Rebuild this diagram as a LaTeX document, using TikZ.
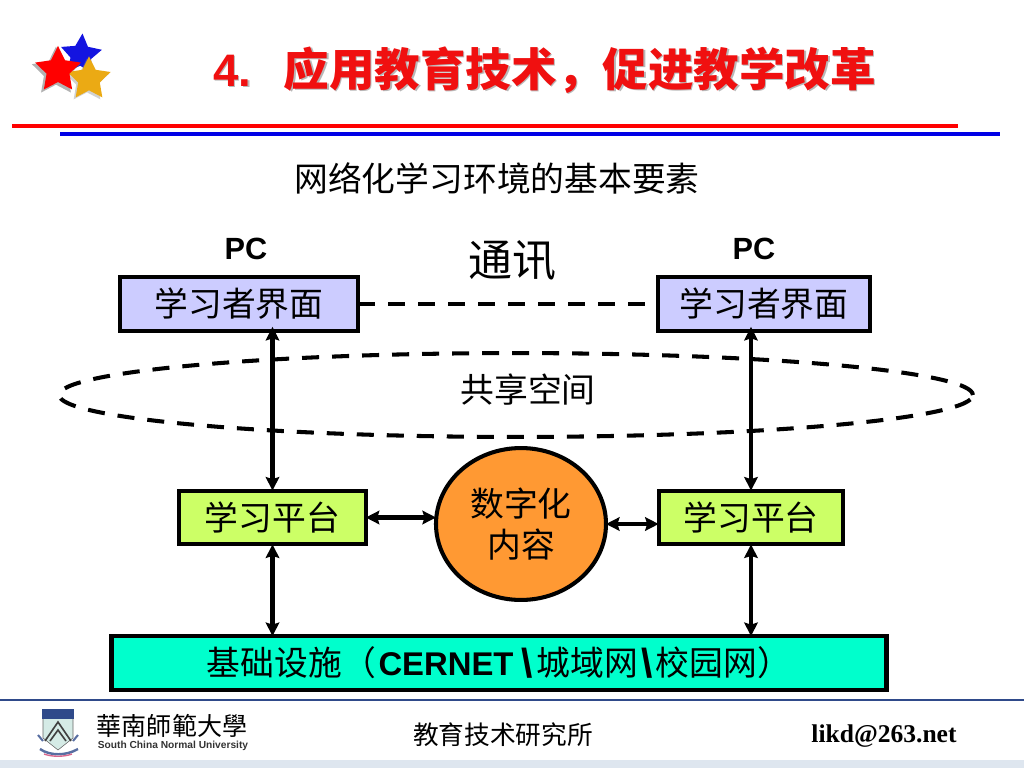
\documentclass[tikz,border=0pt]{standalone}
\usepackage{fontspec}
\setmainfont{Noto Sans CJK SC}
\newfontfamily\cjktrad{Noto Sans CJK TC}
\newfontfamily\latinsans{Liberation Sans}
\newfontfamily\latinserif{Liberation Serif}
\usepackage{xcolor}
\definecolor{colTitle}{HTML}{F01010}
\definecolor{colRule}{HTML}{0000E6}
\definecolor{colUser}{HTML}{CCCCFF}
\definecolor{colPlatform}{HTML}{CCFF66}
\definecolor{colContent}{HTML}{FF9933}
\definecolor{colBase}{HTML}{00FFCC}
\definecolor{colFooter}{HTML}{2F4A8A}
\definecolor{colBand}{HTML}{DEE6EF}
\definecolor{colStarBlue}{HTML}{1414E0}
\definecolor{colStarGold}{HTML}{EBAA14}
\definecolor{colShield}{HTML}{D5EBE6}
\usetikzlibrary{arrows.meta, shapes.geometric}
\tikzset{
    blockbox/.style={draw=black, line width=3pt, outer sep=0pt, inner sep=0pt, font=\fontsize{25}{30}\selectfont},
    biarrow/.style={{Stealth[length=10pt,width=10pt,inset=1.5pt]}-{Stealth[length=10pt,width=10pt,inset=1.5pt]}, line width=3pt},
    dashline/.style={line width=3pt, dash pattern=on 12.6pt off 9.6pt},
    titletext/.style={anchor=west, inner sep=0pt, font=\fontsize{33.7}{40}\selectfont\bfseries},
    starmark/.style={star, star points=5, star point ratio=2, inner sep=0pt, minimum size=#1},
    pclabel/.style={font=\latinsans\fontsize{22.7}{27}\selectfont\bfseries}
}
\newcommand{\slidetitle}{{\latinsans 4.}\hspace{24pt}应用教育技术，促进教学改革}
\newcommand{\bigslash}{\hspace{2.5pt}\raisebox{-1pt}{\latinsans\fontsize{30}{30}\selectfont\bfseries\textbackslash}\hspace{2.5pt}}
\begin{document}
\begin{tikzpicture}[x=0.026cm, y=-0.026cm]
        \useasboundingbox (0,0) rectangle (1024,768);
        % Header
        \node[starmark=1.12cm, fill=colStarBlue, rotate=-4] (starBlue) at (81,55) {};
        \node[starmark=1.32cm, fill=black!55, opacity=0.55] (starShade) at (56,72) {};
        \node[starmark=1.18cm, fill=black!45, opacity=0.4] (goldShade) at (87,81) {};
        \node[starmark=1.18cm, fill=colStarGold] (starGold) at (89,79) {};
        \node[starmark=1.25cm, fill=red] (starRed) at (58,70) {};
        \node[titletext, text=black!28] (titleShade) at (214.5,71.5) {\slidetitle};
        \node[titletext, text=colTitle] (title) at (213,70) {\slidetitle};
        \fill[red] (12,124) rectangle (958,128);
        \fill[colRule] (60,132) rectangle (1000,136);
        \node[font=\fontsize{25}{30}\selectfont] (subtitle) at (497,178) {网络化学习环境的基本要素};
        % Top labels
        \node[pclabel] (pcL) at (246,249) {PC};
        \node[pclabel] (pcR) at (754,249) {PC};
        \node[font=\fontsize{32.5}{39}\selectfont] (link) at (512,261) {通讯};
        % Shared space
        \node[ellipse, dashline, draw=black, minimum width=23.76cm, minimum height=2.18cm, inner sep=0pt] (space) at (516,395) {};
        \node[font=\fontsize{25}{30}\selectfont] (spaceText) at (528,390) {共享空间};
        % Blocks
        \node[blockbox, fill=colUser, minimum width=6.2cm, minimum height=1.4cm] (userL) at (239,304) {学习者界面};
        \node[blockbox, fill=colUser, minimum width=5.5cm, minimum height=1.4cm] (userR) at (764,304) {学习者界面};
        \node[blockbox, fill=colPlatform, minimum width=4.85cm, minimum height=1.4cm] (platL) at (272.5,517.5) {学习平台};
        \node[blockbox, fill=colPlatform, minimum width=4.8cm, minimum height=1.4cm] (platR) at (751,517.5) {学习平台};
        \node[blockbox, ellipse, fill=colContent, minimum width=4.42cm, minimum height=3.95cm, align=center, font=\fontsize{25}{30.3}\selectfont] (content) at (521,524) {数字化\\内容};
        \node[blockbox, fill=colBase, minimum width=20.15cm, minimum height=1.4cm] (base) at (499,663) {基础设施（\hspace{2pt}{\latinsans\fontsize{24.3}{30}\selectfont\bfseries CERNET}\hspace{3.7pt}\bigslash 城域网\bigslash 校园网）};
        % Connectors
        \draw[dashline] (userL.east) -- (userR.west);
        \draw[biarrow, shorten <=-3pt] (userL.south -| platL.north) -- (platL.north);
        \draw[biarrow, shorten <=-3pt] (userR.south -| platR.north) -- (platR.north);
        \draw[biarrow] (platL.east) -- (platL.east -| content.west);
        \draw[biarrow] (content.east) -- (content.east -| platR.west);
        \draw[biarrow] (platL.south) -- (platL.south |- base.north);
        \draw[biarrow] (platR.south) -- (platR.south |- base.north);
        % Footer
        \fill[colBand] (0,760) rectangle (1024,768);
        \draw[colFooter, line width=1.5pt] (0,700) -- (1024,700);
        % Emblem
        \fill[colShield, draw=black!60] (43,718) -- (73,718) -- (73,738) -- (58,750) -- (43,738) -- cycle;
        \fill[colFooter] (42,709) rectangle (74,719);
        \draw[black!75, line width=1.2pt] (45,741) -- (58,722) -- (71,741);
        \draw[black!75, line width=1.2pt] (50,741) -- (58,730) -- (66,741);
        \draw[colFooter!80, line width=1.5pt] (38,735) -- (43,741) (78,735) -- (73,741);
        \draw[colFooter!80, line width=1.8pt] (40,749) .. controls (50,756) and (66,756) .. (78,749);
        \draw[purple!60, line width=1pt] (44,754) .. controls (52,757) and (64,757) .. (72,754);
        \node[font=\cjktrad\fontsize{18.5}{22}\selectfont] (schoolCn) at (172,726) {華南師範大學};
        \node[font=\latinsans\fontsize{7.55}{10}\selectfont\bfseries, text=black!80] (schoolEn) at (173,746) {South China Normal University};
        \node[font=\fontsize{19}{23}\selectfont] (institute) at (503,735) {教育技术研究所};
        \node[font=\latinserif\fontsize{18.9}{23}\selectfont\bfseries] (mail) at (884,736) {likd@263.net};
    \end{tikzpicture}
\end{document}
